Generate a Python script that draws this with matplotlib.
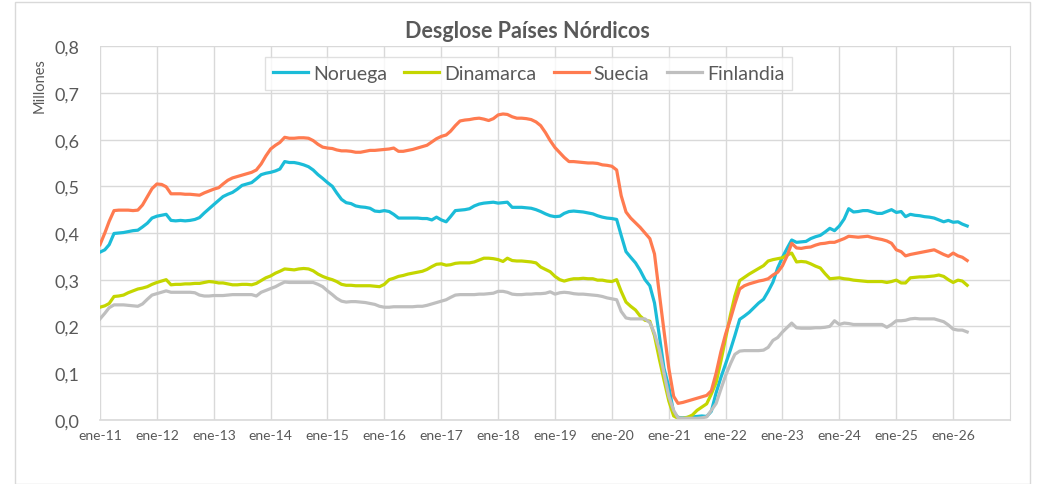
import numpy as np
import pandas as pd
import matplotlib
matplotlib.use('Agg')
import matplotlib.pyplot as plt
from matplotlib.ticker import FuncFormatter
from matplotlib.patches import Rectangle

# monthly values (millones), ene-2011 .. abr-2026
noruega = [
    0.359, 0.364, 0.375, 0.399, 0.400, 0.401, 0.403, 0.405, 0.406, 0.413, 0.421, 0.432,
    0.436, 0.438, 0.440, 0.427, 0.426, 0.427, 0.426, 0.427, 0.429, 0.433, 0.443, 0.452,
    0.461, 0.470, 0.478, 0.483, 0.487, 0.494, 0.502, 0.505, 0.508, 0.516, 0.525, 0.528,
    0.530, 0.533, 0.537, 0.553, 0.551, 0.551, 0.549, 0.546, 0.542, 0.535, 0.525, 0.517,
    0.508, 0.500, 0.486, 0.472, 0.465, 0.463, 0.458, 0.456, 0.455, 0.453, 0.447, 0.446,
    0.448, 0.446, 0.440, 0.432, 0.432, 0.432, 0.432, 0.432, 0.431, 0.431, 0.428, 0.434,
    0.428, 0.424, 0.435, 0.448, 0.449, 0.450, 0.452, 0.458, 0.462, 0.464, 0.465, 0.466,
    0.464, 0.465, 0.466, 0.455, 0.455, 0.455, 0.454, 0.453, 0.450, 0.446, 0.441, 0.437,
    0.435, 0.436, 0.442, 0.446, 0.447, 0.446, 0.445, 0.443, 0.441, 0.437, 0.434, 0.432,
    0.431, 0.429, 0.395, 0.360, 0.348, 0.336, 0.320, 0.300, 0.287, 0.250, 0.180, 0.110,
    0.070, 0.015, 0.005, 0.004, 0.005, 0.006, 0.007, 0.008, 0.007, 0.018, 0.058, 0.090,
    0.120, 0.150, 0.180, 0.215, 0.222, 0.230, 0.240, 0.250, 0.258, 0.275, 0.295, 0.325,
    0.348, 0.368, 0.385, 0.380, 0.381, 0.382, 0.388, 0.392, 0.395, 0.402, 0.410, 0.405,
    0.415, 0.430, 0.452, 0.445, 0.446, 0.448, 0.448, 0.445, 0.442, 0.442, 0.446, 0.450,
    0.444, 0.446, 0.435, 0.440, 0.438, 0.437, 0.435, 0.434, 0.432, 0.428, 0.424, 0.427,
    0.423, 0.424, 0.419, 0.415]

dinamarca = [
    0.241, 0.244, 0.249, 0.264, 0.265, 0.267, 0.272, 0.276, 0.280, 0.282, 0.285, 0.290,
    0.294, 0.297, 0.300, 0.289, 0.290, 0.290, 0.291, 0.291, 0.292, 0.292, 0.294, 0.296,
    0.295, 0.293, 0.293, 0.291, 0.289, 0.289, 0.290, 0.290, 0.289, 0.292, 0.298, 0.304,
    0.308, 0.314, 0.318, 0.323, 0.322, 0.321, 0.323, 0.324, 0.323, 0.319, 0.312, 0.307,
    0.303, 0.300, 0.296, 0.290, 0.288, 0.288, 0.287, 0.287, 0.287, 0.287, 0.286, 0.285,
    0.290, 0.300, 0.303, 0.307, 0.309, 0.312, 0.314, 0.316, 0.318, 0.322, 0.328, 0.333,
    0.334, 0.331, 0.332, 0.335, 0.336, 0.336, 0.336, 0.338, 0.342, 0.346, 0.346, 0.345,
    0.343, 0.339, 0.346, 0.341, 0.340, 0.340, 0.339, 0.338, 0.336, 0.327, 0.322, 0.317,
    0.307, 0.300, 0.297, 0.300, 0.302, 0.302, 0.303, 0.302, 0.302, 0.299, 0.299, 0.297,
    0.296, 0.300, 0.275, 0.252, 0.243, 0.235, 0.222, 0.213, 0.211, 0.180, 0.130, 0.085,
    0.040, 0.008, 0.003, 0.003, 0.005, 0.010, 0.020, 0.027, 0.034, 0.055, 0.080, 0.125,
    0.175, 0.225, 0.265, 0.298, 0.305, 0.312, 0.318, 0.324, 0.330, 0.340, 0.343, 0.345,
    0.347, 0.353, 0.357, 0.338, 0.339, 0.338, 0.334, 0.329, 0.325, 0.313, 0.302, 0.303,
    0.304, 0.302, 0.301, 0.299, 0.298, 0.297, 0.296, 0.296, 0.296, 0.296, 0.294, 0.296,
    0.299, 0.293, 0.293, 0.304, 0.305, 0.306, 0.306, 0.307, 0.308, 0.310, 0.307, 0.300,
    0.294, 0.299, 0.297, 0.288]

suecia = [
    0.375, 0.400, 0.425, 0.448, 0.449, 0.449, 0.449, 0.448, 0.449, 0.460, 0.478, 0.495,
    0.505, 0.504, 0.499, 0.484, 0.484, 0.484, 0.483, 0.483, 0.482, 0.481, 0.486, 0.490,
    0.494, 0.497, 0.505, 0.513, 0.518, 0.521, 0.524, 0.527, 0.530, 0.535, 0.548, 0.565,
    0.580, 0.588, 0.594, 0.605, 0.603, 0.603, 0.604, 0.604, 0.603, 0.598, 0.590, 0.584,
    0.582, 0.581, 0.578, 0.576, 0.576, 0.575, 0.573, 0.573, 0.575, 0.577, 0.577, 0.578,
    0.579, 0.580, 0.582, 0.575, 0.575, 0.577, 0.579, 0.582, 0.585, 0.588, 0.595, 0.602,
    0.607, 0.610, 0.618, 0.630, 0.640, 0.642, 0.643, 0.645, 0.646, 0.644, 0.641, 0.645,
    0.653, 0.655, 0.654, 0.649, 0.646, 0.646, 0.645, 0.643, 0.638, 0.630, 0.615, 0.598,
    0.583, 0.572, 0.562, 0.553, 0.553, 0.552, 0.551, 0.550, 0.550, 0.549, 0.546, 0.545,
    0.543, 0.535, 0.480, 0.445, 0.432, 0.422, 0.412, 0.400, 0.388, 0.355, 0.270, 0.190,
    0.110, 0.050, 0.035, 0.037, 0.040, 0.043, 0.046, 0.049, 0.052, 0.062, 0.100, 0.145,
    0.184, 0.216, 0.248, 0.280, 0.287, 0.291, 0.294, 0.297, 0.299, 0.302, 0.310, 0.316,
    0.330, 0.352, 0.378, 0.368, 0.367, 0.369, 0.370, 0.374, 0.377, 0.378, 0.380, 0.380,
    0.384, 0.388, 0.393, 0.392, 0.391, 0.392, 0.393, 0.390, 0.388, 0.386, 0.383, 0.378,
    0.364, 0.360, 0.351, 0.354, 0.356, 0.358, 0.360, 0.362, 0.364, 0.359, 0.354, 0.350,
    0.357, 0.351, 0.348, 0.341]

finlandia = [
    0.216, 0.228, 0.240, 0.246, 0.246, 0.246, 0.245, 0.244, 0.243, 0.248, 0.258, 0.267,
    0.270, 0.273, 0.276, 0.273, 0.273, 0.273, 0.273, 0.273, 0.272, 0.267, 0.265, 0.265,
    0.266, 0.266, 0.266, 0.267, 0.268, 0.268, 0.268, 0.268, 0.268, 0.265, 0.273, 0.277,
    0.281, 0.285, 0.290, 0.295, 0.294, 0.294, 0.294, 0.294, 0.294, 0.294, 0.290, 0.285,
    0.276, 0.268, 0.260, 0.254, 0.252, 0.253, 0.253, 0.252, 0.251, 0.249, 0.247, 0.243,
    0.241, 0.241, 0.242, 0.242, 0.242, 0.242, 0.242, 0.243, 0.243, 0.245, 0.248, 0.251,
    0.254, 0.257, 0.262, 0.267, 0.268, 0.268, 0.268, 0.268, 0.269, 0.269, 0.270, 0.271,
    0.275, 0.275, 0.273, 0.269, 0.268, 0.268, 0.269, 0.269, 0.270, 0.270, 0.271, 0.274,
    0.269, 0.272, 0.273, 0.272, 0.270, 0.269, 0.269, 0.268, 0.267, 0.266, 0.264, 0.261,
    0.259, 0.257, 0.232, 0.218, 0.216, 0.216, 0.216, 0.216, 0.208, 0.185, 0.150, 0.100,
    0.050, 0.020, 0.004, 0.003, 0.003, 0.003, 0.003, 0.004, 0.006, 0.020, 0.035, 0.065,
    0.095, 0.120, 0.140, 0.147, 0.148, 0.148, 0.148, 0.148, 0.149, 0.155, 0.170, 0.176,
    0.188, 0.198, 0.207, 0.197, 0.196, 0.196, 0.196, 0.197, 0.197, 0.198, 0.200, 0.212,
    0.204, 0.207, 0.206, 0.204, 0.204, 0.204, 0.204, 0.204, 0.204, 0.204, 0.198, 0.204,
    0.212, 0.212, 0.213, 0.216, 0.217, 0.216, 0.216, 0.216, 0.216, 0.213, 0.210, 0.203,
    0.194, 0.192, 0.192, 0.188]

series = ['Noruega', 'Dinamarca', 'Suecia', 'Finlandia']
colores = ['#1BBCD8', '#C4D600', '#FF7B50', '#BFBFBF']
fechas = pd.date_range('2011-01-01', periods=len(noruega), freq='MS')
años = list(range(2011, 2027))
etiquetas = ['ene-%02d' % (a % 100) for a in años]

plt.rcParams['font.family'] = ['Lato', 'DejaVu Sans']
gris = '#D9D9D9'
texto = '#595959'

fig = plt.figure(figsize=(10.4, 4.85), dpi=100)
fig.patches.append(Rectangle((15/1040, 0.0), 1015/1040, 482/485, transform=fig.transFigure,
                             fill=False, edgecolor=gris, lw=1))
ax = fig.add_axes([100/1040, 1-420.7/485, 910/1040, (420.7-47.3)/485])

for nombre, datos, c in zip(series, [noruega, dinamarca, suecia, finlandia], colores):
    ax.plot(fechas, datos, color=c, lw=2.3, label=nombre, solid_joinstyle='round')

ax.set_xlim(pd.Timestamp('2011-01-01'), pd.Timestamp('2027-01-01'))
ax.set_ylim(0, 0.8)
ax.set_yticks(np.arange(0, 0.81, 0.1))
ax.yaxis.set_major_formatter(FuncFormatter(lambda v, p: ('%.1f' % v).replace('.', ',')))
ax.set_xticks([pd.Timestamp('%d-01-01' % a) for a in años])
ax.set_xticklabels(etiquetas)
ax.grid(True, color=gris, lw=1)
ax.set_axisbelow(True)
for s in ['top', 'left']:
    ax.spines[s].set_visible(False)
ax.spines['right'].set_color(gris)
ax.spines['bottom'].set_color(gris)
ax.spines['bottom'].set_linewidth(1.2)
ax.tick_params(axis='y', length=0, pad=15, labelsize=13, labelcolor=texto)
ax.tick_params(axis='x', length=0, pad=7, labelsize=10, labelcolor=texto)

fig.text(40/1040, 1-86/485, 'Millones', rotation=90, ha='center', va='center',
         fontsize=10.5, color=texto)
fig.text(527/1040, 1-31/485, 'Desglose Países Nórdicos', ha='center', va='center',
         fontsize=15.5, fontweight='bold', color=texto)

leg = ax.legend(loc='upper center', bbox_to_anchor=(0.471, 0.972), ncol=4, frameon=True,
                fancybox=False, edgecolor=gris, fontsize=14, handlelength=1.8,
                handletextpad=0.25, columnspacing=0.9, borderpad=0.42, borderaxespad=0)
for t in leg.get_texts():
    t.set_color(texto)

fig.savefig('out.png', dpi=100)
